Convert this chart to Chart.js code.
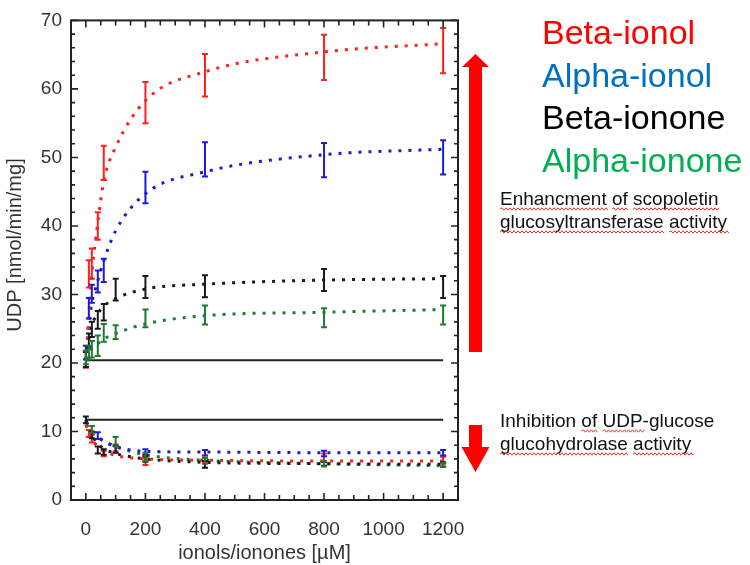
<!DOCTYPE html>
<html>
<head>
<meta charset="utf-8">
<script src="https://cdn.jsdelivr.net/npm/chart.js@4.4.0/dist/chart.umd.min.js"></script>
<style>
    html, body { margin: 0; padding: 0; background: #fff; }
    #wrap { width: 750px; height: 565px; }
</style>
</head>
<body>
<div id="wrap"><canvas id="udpChart" width="750" height="565"></canvas></div>
<script>
// --- konsentrasi (µM) ---
const conc = [0, 10, 20, 40, 60, 100, 200, 400, 800, 1200];

// --- glucosyltransferase (bagian atas) ---
const betaIonolMean   = [20.5, 33.0, 34.5, 40.0, 49.2, null, 58.0, 62.0, 64.6, 65.6];
const betaIonolSd     = [1.2, 2.0, 2.2, 2.0, 2.5, null, 3.0, 3.1, 3.3, 3.3];
const betaIonolFit    = [20.5, 27.0, 33.0, 40.5, 46.5, 51.5, 58.3, 62.5, 65.4, 66.6];

const alphaIonolMean  = [21.5, 28.0, 30.1, 31.9, 33.5, null, 45.6, 49.7, 49.6, 50.0];
const alphaIonolSd    = [1.0, 1.5, 1.3, 1.6, 1.7, null, 2.3, 2.5, 2.5, 2.5];
const alphaIonolFit   = [20.5, 25.8, 28.7, 32.0, 34.9, 39.3, 44.7, 47.9, 50.4, 51.2];

const betaIononeMean  = [20.5, 23.3, 24.9, 26.3, 27.4, 30.7, 31.1, 31.2, 32.1, 31.1];
const betaIononeSd    = [1.1, 1.0, 1.1, 1.3, 1.2, 1.6, 1.6, 1.6, 1.6, 1.6];
const betaIononeFit   = [20.5, 23.5, 25.5, 27.2, 28.3, 29.4, 30.8, 31.5, 32.1, 32.3];

const alphaIononeMean = [20.8, 21.5, 22.0, 22.5, 24.4, 24.5, 26.5, 27.0, 26.6, 27.0];
const alphaIononeSd   = [1.0, 1.0, 1.2, 1.5, 1.3, 1.0, 1.3, 1.4, 1.4, 1.4];
const alphaIononeFit  = [20.5, 21.3, 22.1, 22.8, 23.5, 24.3, 25.7, 26.9, 27.4, 27.8];

// --- UDP-glucose glucohydrolase (bagian bawah) ---
const betaIonolLow      = [null, 9.7, 9.0, null, 6.8, 7.6, 5.6, 5.8, 6.2, 5.8];
const betaIonolLowSd    = [null, 0.5, 0.6, null, 0.4, 0.5, 0.5, 0.4, 0.6, 0.5];
const betaIonolLowFit   = [11.0, 9.8, 8.9, 7.8, 7.2, 6.5, 6.0, 5.8, 5.7, 5.7];

const alphaIonolLow     = [null, null, null, 9.4, null, null, 7.0, 6.9, 6.8, 6.9];
const alphaIonolLowSd   = [null, null, null, 0.5, null, null, 0.4, 0.4, 0.4, 0.4];
const alphaIonolLowFit  = [11.0, 10.3, 9.8, 9.2, 8.6, 7.8, 7.1, 7.0, 6.9, 6.9];

const betaIononeLow     = [11.7, null, 9.5, 7.3, 7.0, 7.4, 6.0, 5.2, 5.3, 5.2];
const betaIononeLowSd   = [0.5, null, 0.5, 0.5, 0.4, 0.5, 0.4, 0.5, 0.3, 0.3];
const betaIononeLowFit  = [11.7, 10.5, 9.5, 8.2, 7.5, 6.8, 6.0, 5.5, 5.3, 5.2];

const alphaIononeLow    = [null, null, 10.3, null, null, 8.5, 6.3, 5.7, 5.3, 5.1];
const alphaIononeLowSd  = [null, null, 0.5, null, null, 0.7, 0.6, 0.4, 0.4, 0.3];
const alphaIononeLowFit = [11.0, 10.6, 10.0, 9.2, 8.6, 7.8, 6.6, 5.8, 5.3, 5.0];

// garis kontrol (tanpa senyawa)
const controlLevels = [20.4, 11.7];

// --- label sumbu ---
const xTicks = [0, 200, 400, 600, 800, 1000, 1200];
const yTicks = [0, 10, 20, 30, 40, 50, 60, 70];
const legendNames = ['Beta-ionol', 'Alpha-ionol', 'Beta-ionone', 'Alpha-ionone'];

const FONT = "'Liberation Sans', Arial, sans-serif";
const RED = '#ff1f1f', BLUE = '#1c1cd6', BLACK = '#1a1a1a', GREEN = '#1f7a32';
const legendColors = ['#ff0000', '#0070c0', '#000000', '#00b050'];

const toPoints = (ys, sds) => conc
    .map((x, i) => ({ x: x, y: ys[i], sd: sds ? sds[i] : 0 }))
    .filter(p => p.y !== null);

function fitLine(ys, color) {
    return {
        type: 'line',
        data: toPoints(ys),
        borderColor: color,
        borderWidth: 3,
        borderDash: [3, 7],
        pointRadius: 0,
        cubicInterpolationMode: 'monotone',
        fill: false
    };
}

function errSet(ys, sds, color) {
    return {
        type: 'scatter',
        data: toPoints(ys, sds),
        borderColor: color,
        backgroundColor: color,
        pointRadius: 0,
        showLine: false,
        errorBars: true
    };
}

function controlLine(level) {
    return {
        type: 'line',
        data: [{ x: conc[0], y: level }, { x: conc[conc.length - 1], y: level }],
        borderColor: '#222',
        borderWidth: 2,
        pointRadius: 0,
        fill: false
    };
}

// --- plugin error bar ---
const errorBarPlugin = {
    id: 'errorBars',
    afterDatasetsDraw(chart) {
        const { ctx, scales: { x, y } } = chart;
        chart.data.datasets.forEach(ds => {
            if (!ds.errorBars) return;
            ctx.save();
            ctx.strokeStyle = ds.borderColor;
            ctx.lineWidth = 2;
            ds.data.forEach(p => {
                const px = x.getPixelForValue(p.x);
                const top = y.getPixelForValue(p.y + p.sd);
                const bot = y.getPixelForValue(p.y - p.sd);
                ctx.beginPath();
                ctx.moveTo(px, top); ctx.lineTo(px, bot);
                ctx.moveTo(px - 3, top); ctx.lineTo(px + 3, top);
                ctx.moveTo(px - 3, bot); ctx.lineTo(px + 3, bot);
                ctx.stroke();
            });
            ctx.restore();
        });
    }
};

// garis bergelombang merah (spell check)
function wavy(ctx, x1, x2, yy) {
    ctx.beginPath();
    ctx.moveTo(x1, yy);
    let up = true;
    for (let xx = x1; xx < x2; xx += 2) {
        ctx.lineTo(xx + 2, yy + (up ? -1.2 : 1.2));
        up = !up;
    }
    ctx.stroke();
}

function noteText(ctx, text, words, x, baseline) {
    ctx.fillStyle = '#111';
    ctx.fillText(text, x, baseline);
    ctx.save();
    ctx.strokeStyle = '#e03030';
    ctx.lineWidth = 1;
    let from = 0;
    words.forEach(w => {
        const i = text.indexOf(w, from);
        if (i < 0) return;
        const x1 = x + ctx.measureText(text.slice(0, i)).width;
        const x2 = x1 + ctx.measureText(w).width;
        wavy(ctx, x1, x2, baseline + 4);
        from = i + w.length;
    });
    ctx.restore();
}

function arrow(ctx, cx, yTail, yBase, yTip, shaftW, headW) {
    ctx.beginPath();
    ctx.moveTo(cx - shaftW / 2, yTail);
    ctx.lineTo(cx - shaftW / 2, yBase);
    ctx.lineTo(cx - headW / 2, yBase);
    ctx.lineTo(cx, yTip);
    ctx.lineTo(cx + headW / 2, yBase);
    ctx.lineTo(cx + shaftW / 2, yBase);
    ctx.lineTo(cx + shaftW / 2, yTail);
    ctx.closePath();
    ctx.fill();
}

// --- bingkai, tick ke dalam, anotasi ---
const framePlugin = {
    id: 'frame',
    afterDraw(chart) {
        const { ctx, chartArea: a, scales: { x, y } } = chart;
        ctx.save();
        ctx.strokeStyle = '#222';
        ctx.lineWidth = 2;
        ctx.strokeRect(a.left, a.top, a.right - a.left, a.bottom - a.top);

        ctx.lineWidth = 1.6;
        ctx.beginPath();
        for (let v = 0; v <= 1200; v += 50) {
            const px = x.getPixelForValue(v);
            const len = v % 200 === 0 ? 7 : 5;
            ctx.moveTo(px, a.bottom); ctx.lineTo(px, a.bottom - len);
            ctx.moveTo(px, a.top); ctx.lineTo(px, a.top + len);
        }
        for (let v = 0; v <= 70; v += 2) {
            const py = y.getPixelForValue(v);
            const len = v % 10 === 0 ? 7 : 4;
            ctx.moveTo(a.left, py); ctx.lineTo(a.left + len, py);
            ctx.moveTo(a.right, py); ctx.lineTo(a.right - len, py);
        }
        ctx.stroke();

        // judul sumbu Y
        ctx.save();
        ctx.translate(15, 245);
        ctx.rotate(-Math.PI / 2);
        ctx.font = '20px ' + FONT;
        ctx.fillStyle = '#333';
        ctx.textAlign = 'center';
        ctx.textBaseline = 'middle';
        ctx.fillText('UDP [nmol/min/mg]', 0, 0);
        ctx.restore();

        // panah
        ctx.fillStyle = '#ff0000';
        const cx = a.right + 17.5;
        arrow(ctx, cx, 352, 67, 54, 13, 27);
        arrow(ctx, cx, 425, 447, 472, 13, 28);

        // legenda
        ctx.font = '34px ' + FONT;
        ctx.textAlign = 'left';
        ctx.textBaseline = 'alphabetic';
        legendNames.forEach((name, i) => {
            ctx.fillStyle = legendColors[i];
            ctx.fillText(name, 542, 44 + i * 42.7);
        });

        // keterangan
        ctx.font = '19px ' + FONT;
        noteText(ctx, 'Enhancment of scopoletin', ['Enhancment', 'of', 'scopoletin'], 500, 205);
        noteText(ctx, 'glucosyltransferase activity', ['glucosyltransferase', 'activity'], 500, 228);
        noteText(ctx, 'Inhibition of UDP-glucose', ['of', 'UDP'], 500, 427);
        noteText(ctx, 'glucohydrolase activity', ['glucohydrolase', 'activity'], 500, 450);
        ctx.restore();
    }
};

const ctx = document.getElementById('udpChart').getContext('2d');
new Chart(ctx, {
    data: {
        datasets: [
            errSet(betaIonolMean, betaIonolSd, RED),
            errSet(alphaIonolMean, alphaIonolSd, BLUE),
            errSet(betaIononeMean, betaIononeSd, BLACK),
            errSet(alphaIononeMean, alphaIononeSd, GREEN),
            errSet(betaIonolLow, betaIonolLowSd, RED),
            errSet(alphaIonolLow, alphaIonolLowSd, BLUE),
            errSet(betaIononeLow, betaIononeLowSd, BLACK),
            errSet(alphaIononeLow, alphaIononeLowSd, GREEN),
            fitLine(betaIonolFit, RED),
            fitLine(alphaIonolFit, BLUE),
            fitLine(betaIononeFit, BLACK),
            fitLine(alphaIononeFit, GREEN),
            fitLine(betaIonolLowFit, RED),
            fitLine(alphaIonolLowFit, BLUE),
            fitLine(betaIononeLowFit, BLACK),
            fitLine(alphaIononeLowFit, GREEN),
            controlLine(controlLevels[0]),
            controlLine(controlLevels[1])
        ]
    },
    options: {
        responsive: false,
        animation: false,
        layout: { padding: { top: 20, right: 292, left: 0, bottom: 0 } },
        plugins: {
            legend: { display: false },
            tooltip: { enabled: false }
        },
        scales: {
            x: {
                type: 'linear',
                min: -50,
                max: 1250,
                afterBuildTicks: s => { s.ticks = xTicks.map(v => ({ value: v })); },
                afterFit: s => { s.height = 65; },
                grid: { display: false, drawTicks: false },
                border: { display: false },
                ticks: {
                    padding: 18,
                    autoSkip: false,
                    maxRotation: 0,
                    color: '#333',
                    font: { family: FONT, size: 19 },
                    callback: v => String(v)
                },
                title: {
                    display: true,
                    text: 'ionols/ionones [µM]',
                    color: '#333',
                    font: { family: FONT, size: 20 },
                    padding: { top: 0, bottom: 0 }
                }
            },
            y: {
                type: 'linear',
                min: 0,
                max: 70,
                afterBuildTicks: s => { s.ticks = yTicks.map(v => ({ value: v })); },
                afterFit: s => { s.width = 71; },
                grid: { display: false, drawTicks: false },
                border: { display: false },
                ticks: { padding: 9, color: '#333', font: { family: FONT, size: 19 } }
            }
        }
    },
    plugins: [errorBarPlugin, framePlugin]
});
</script>
</body>
</html>
